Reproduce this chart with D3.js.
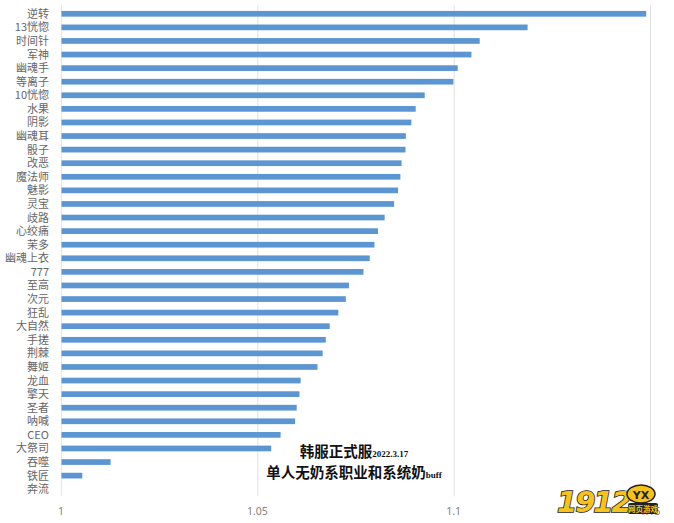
<!DOCTYPE html>
<html><head><meta charset="utf-8">
<script src="https://cdn.jsdelivr.net/npm/d3@7"></script>
<style>body{margin:0;background:#fff}svg{display:block}</style>
</head><body>
<svg id="c" width="674" height="523"></svg>
<script>
const categories = ["逆转","13恍惚","时间针","军神","幽魂手","等离子","10恍惚","水果","阴影","幽魂耳","骰子","改恶","魔法师","魅影","灵宝","歧路","心绞痛","茉多","幽魂上衣","777","至高","次元","狂乱","大自然","手搓","荆棘","舞姬","龙血","擎天","圣者","呐喊","CEO","大祭司","吞噬","铁匠","奔流"];
const values = [1.1489,1.1187,1.1065,1.1044,1.1009,1.0998,1.0925,1.0902,1.0891,1.0877,1.0876,1.0866,1.0863,1.0857,1.0847,1.0823,1.0806,1.0797,1.0785,1.0769,1.0732,1.0724,1.0705,1.0683,1.0673,1.0665,1.0652,1.0609,1.0606,1.0599,1.0595,1.0558,1.0534,1.0125,1.0053,1.0];
const xTicks = [1,1.05,1.1,1.15];
const titleMain = ["韩服正式服","单人无奶系职业和系统奶"];
const titleSmall = ["2022.3.17","buff"];

const svg = d3.select("#c");
const x = d3.scaleLinear().domain([1,1.15]).range([61,650]);
const y = d3.scaleBand().domain(categories).range([7,496]).paddingInner(0.58).paddingOuter(0.29);

// gridlines
svg.append("g").selectAll("line").data(xTicks).join("line")
  .attr("x1",d=>x(d)+0.5).attr("x2",d=>x(d)+0.5)
  .attr("y1",5).attr("y2",496)
  .attr("stroke",d=>d===1?"#e6e6e6":"#e0e0e0").attr("stroke-width",1);

// bars
svg.append("g").selectAll("rect").data(categories).join("rect")
  .attr("x",x(1)+0.5).attr("y",d=>y(d))
  .attr("width",(d,i)=>Math.max(0,x(values[i])-x(1)))
  .attr("height",y.bandwidth())
  .attr("fill","#5b95d2");

// y labels
svg.append("g").selectAll("text").data(categories).join("text")
  .attr("x",49).attr("y",d=>y(d)+y.bandwidth()/2+4)
  .attr("text-anchor","end")
  .attr("font-family","'Noto Sans CJK SC','Noto Sans',sans-serif")
  .attr("font-size",11).attr("fill","#666")
  .text(d=>d);

// x axis tick labels
svg.append("g").selectAll("text").data(xTicks).join("text")
  .attr("x",d=>x(d)).attr("y",515)
  .attr("text-anchor","middle")
  .attr("font-family","'Noto Sans','DejaVu Sans',sans-serif")
  .attr("font-size",10.5).attr("fill","#7f7f7f")
  .text(d=>d3.format("")(d));

// title
const tg = svg.append("g").attr("font-family","'Noto Sans CJK SC',sans-serif").attr("fill","#111");
[0,1].forEach(i=>{
  const t = tg.append("text").attr("x",354).attr("y",i===0?457:478).attr("text-anchor","middle");
  t.append("tspan").attr("font-size",14.5).attr("font-weight","bold").text(titleMain[i]);
  t.append("tspan").attr("font-size",9).attr("font-weight","bold")
    .attr("font-family","'Liberation Serif',serif").text(titleSmall[i]);
});

// watermark logo
const lg = svg.append("g");
lg.append("text").attr("x",557).attr("y",512)
  .attr("font-family","'DejaVu Sans',sans-serif").attr("font-weight","bold").attr("font-style","italic")
  .attr("font-size",29).attr("fill","#f7c21a").attr("stroke","#222").attr("stroke-width",1.6)
  .attr("paint-order","stroke").attr("letter-spacing",-2).text("1912");
lg.append("ellipse").attr("cx",641).attr("cy",494).attr("rx",14).attr("ry",9)
  .attr("fill","#f7c21a").attr("stroke","#222").attr("stroke-width",1.5);
lg.append("text").attr("x",641).attr("y",498.5).attr("text-anchor","middle")
  .attr("font-family","'DejaVu Sans',sans-serif").attr("font-weight","bold")
  .attr("font-size",11).attr("fill","#222").text("YX");
lg.append("rect").attr("x",628).attr("y",503).attr("width",30).attr("height",11).attr("fill","#222").attr("rx",2);
lg.append("text").attr("x",643).attr("y",512).attr("text-anchor","middle")
  .attr("font-family","'Noto Sans CJK SC',sans-serif").attr("font-weight","bold")
  .attr("font-size",7.5).attr("fill","#f7c21a").text("网页游戏");
</script>
</body></html>
